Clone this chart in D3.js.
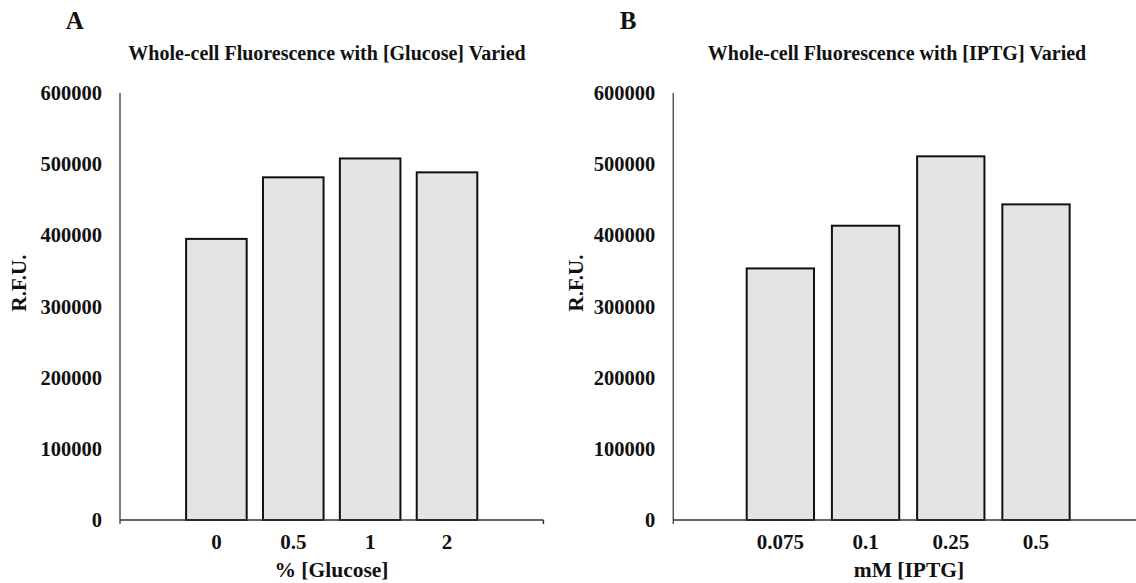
<!DOCTYPE html>
<html>
<head>
<meta charset="utf-8">
<script src="https://cdn.jsdelivr.net/npm/d3@7"></script>
<style>
  html, body { margin: 0; padding: 0; background: #fff; }
  svg { display: block; }
  text { font-family: "Liberation Serif", "Times New Roman", serif; font-weight: bold; fill: #111; }
</style>
</head>
<body>
<svg id="chart" width="1136" height="583"></svg>
<script>
// ---- data ----
const categoriesA = ["0", "0.5", "1", "2"];
const valuesA = [395000, 481500, 508000, 488500];
const categoriesB = ["0.075", "0.1", "0.25", "0.5"];
const valuesB = [353500, 413500, 511000, 443500];
const yTickValues = [0, 100000, 200000, 300000, 400000, 500000, 600000];
const titles = ["Whole-cell Fluorescence with [Glucose] Varied", "Whole-cell Fluorescence with [IPTG] Varied"];
const xTitles = ["% [Glucose]", "mM [IPTG]"];
const panelLetters = ["A", "B"];
const yTitle = "R.F.U.";

// ---- layout ----
const svg = d3.select("#chart");
const panels = [
  { cats: categoriesA, vals: valuesA, title: titles[0], xTitle: xTitles[0], letter: panelLetters[0],
    axisX: 120, axisEnd: 543.4, band: [177.95, 485.45], pad: 0.212,
    letterX: 74.7, titleX: 327, xTitleX: 331.5, yTitleX: 19 },
  { cats: categoriesB, vals: valuesB, title: titles[1], xTitle: xTitles[1], letter: panelLetters[1],
    axisX: 673.3, axisEnd: 1150, band: [737.75, 1078.6], pad: 0.21,
    letterX: 628, titleX: 897, xTitleX: 909, yTitleX: 576 }
];

const y = d3.scaleLinear().domain([0, 600000]).range([520, 93]);

panels.forEach(p => {
  const g = svg.append("g");
  const x = d3.scaleBand().domain(p.cats).range(p.band)
    .paddingInner(p.pad).paddingOuter(p.pad / 2);

  // bars
  g.selectAll("rect.bar").data(p.vals).join("rect")
    .attr("class", "bar")
    .attr("x", (d, i) => x(p.cats[i]))
    .attr("width", x.bandwidth())
    .attr("y", d => y(d))
    .attr("height", d => y(0) - y(d))
    .attr("fill", "#e5e4e4")
    .attr("stroke", "#111")
    .attr("stroke-width", 2);

  // y axis (labels via d3 axis)
  const yAxis = g.append("g")
    .attr("transform", `translate(${p.axisX},0)`)
    .call(d3.axisLeft(y).tickValues(yTickValues).tickSize(0).tickPadding(18).tickFormat(d3.format("d")));
  yAxis.select(".domain").remove();
  yAxis.selectAll("text")
    .style("font-family", "'Liberation Serif', 'Times New Roman', serif")
    .style("font-weight", "bold").style("font-size", "20.5px").attr("fill", "#111");

  // y axis line
  g.append("line")
    .attr("x1", p.axisX).attr("x2", p.axisX)
    .attr("y1", y(600000)).attr("y2", y(0) + 4)
    .attr("stroke", "#555").attr("stroke-width", 1.5);

  // x axis labels via d3 axis
  const xAxis = g.append("g")
    .attr("transform", `translate(0,${y(0)})`)
    .call(d3.axisBottom(x).tickSize(0).tickPadding(14));
  xAxis.select(".domain").remove();
  xAxis.selectAll("text")
    .style("font-family", "'Liberation Serif', 'Times New Roman', serif")
    .style("font-weight", "bold").style("font-size", "21px").attr("fill", "#111");

  // x axis line
  g.append("line")
    .attr("x1", p.axisX).attr("x2", p.axisEnd)
    .attr("y1", y(0)).attr("y2", y(0))
    .attr("stroke", "#333").attr("stroke-width", 1.5);
  g.append("line")
    .attr("x1", p.axisEnd).attr("x2", p.axisEnd)
    .attr("y1", y(0)).attr("y2", y(0) + 4)
    .attr("stroke", "#333").attr("stroke-width", 1.5);

  // titles
  g.append("text").attr("x", p.letterX).attr("y", 28.5)
    .attr("text-anchor", "middle").style("font-size", "25px").text(p.letter);
  g.append("text").attr("x", p.titleX).attr("y", 60)
    .attr("text-anchor", "middle").style("font-size", "20px").text(p.title);
  g.append("text").attr("x", p.xTitleX).attr("y", 577)
    .attr("text-anchor", "middle").style("font-size", "21.5px").text(p.xTitle);
  g.append("text")
    .attr("transform", `translate(${p.yTitleX},283) rotate(-90)`)
    .attr("dy", "0.35em")
    .attr("text-anchor", "middle").style("font-size", "21px").text(yTitle);
});
</script>
</body>
</html>
